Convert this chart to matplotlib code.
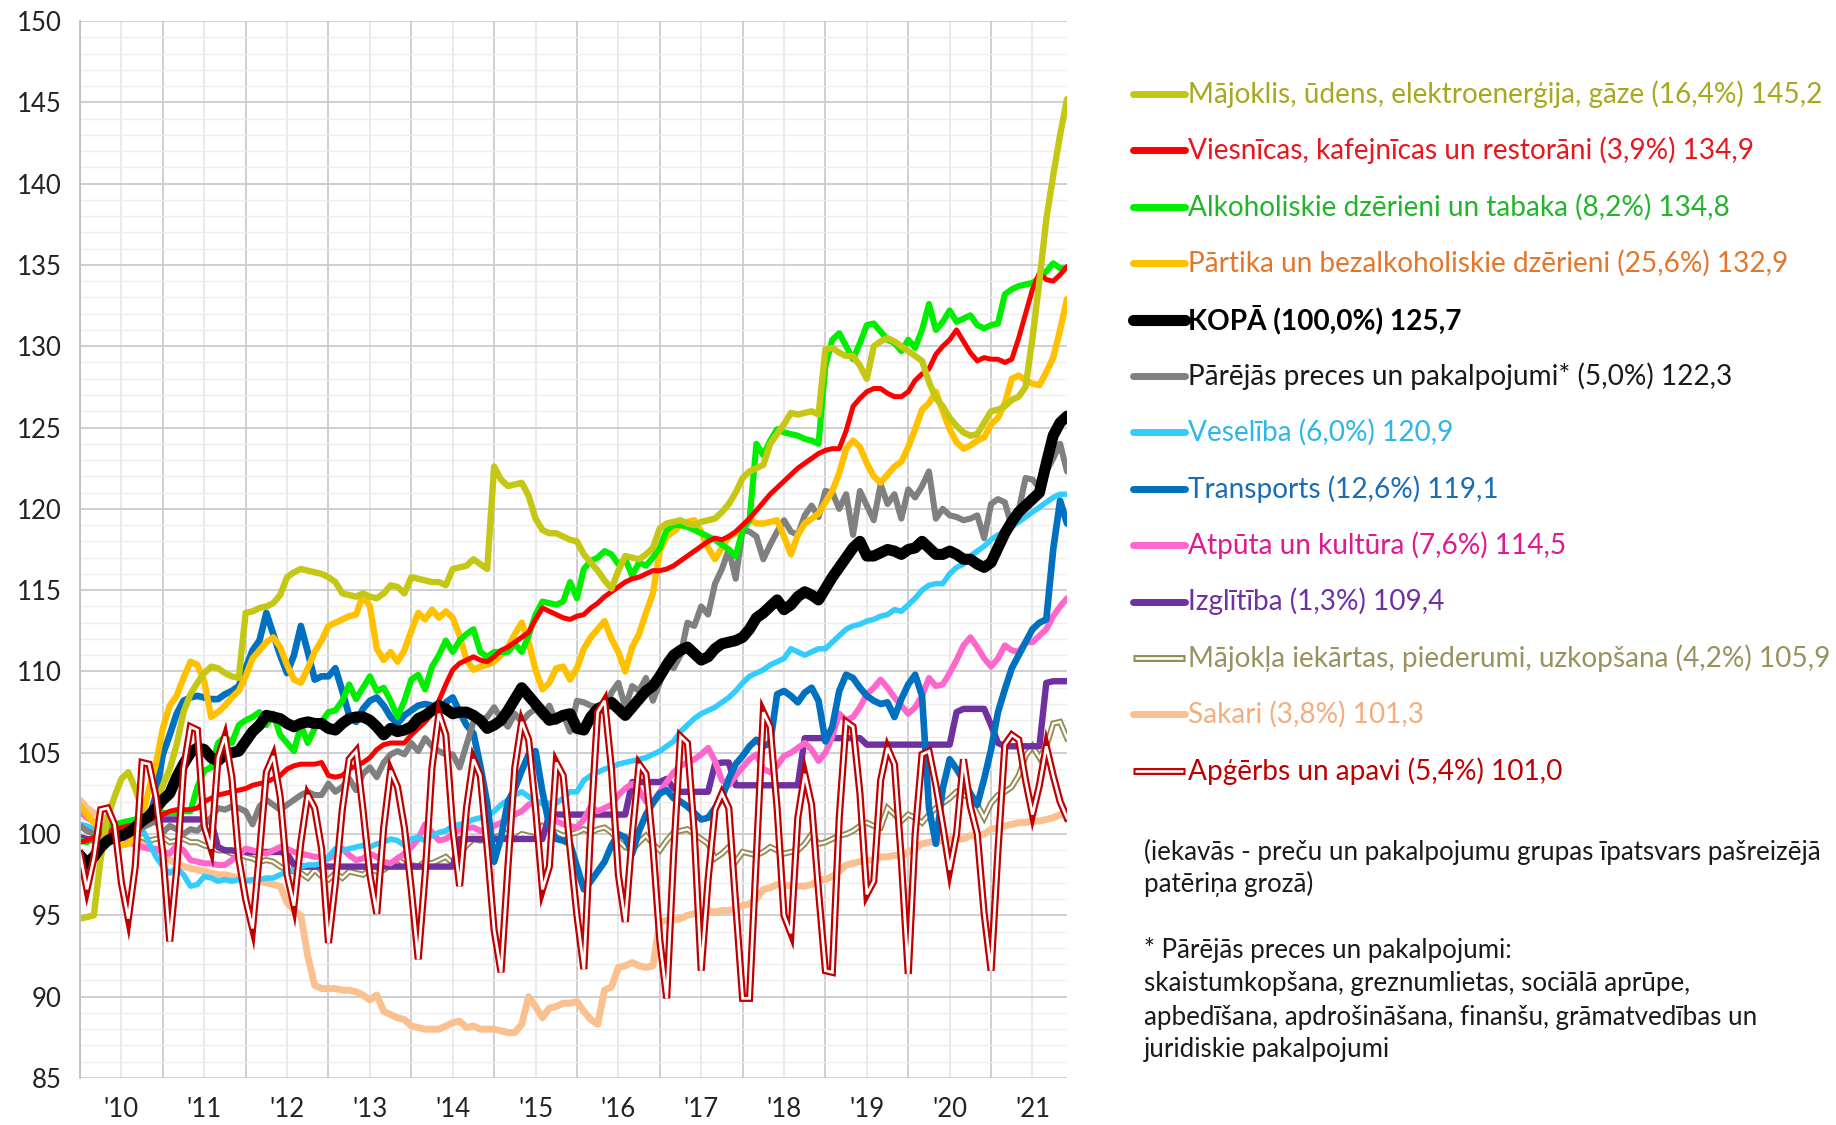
import matplotlib
matplotlib.use('Agg')
import matplotlib.pyplot as plt
import numpy as np

plt.rcParams['font.family'] = ['Lato', 'DejaVu Sans']

# monthly indices, Jan 2010 .. Dec 2021
year_labels = ["'10", "'11", "'12", "'13", "'14", "'15", "'16", "'17", "'18", "'19", "'20", "'21"]

majoklis = [
    94.8, 94.9, 95.0, 98.5, 101.0, 102.3, 103.4, 103.8, 102.8, 101.5, 101.0, 101.8,
    103.0, 104.0, 105.5, 107.5, 108.6, 109.3, 109.9, 110.3, 110.2, 109.9, 109.7, 109.6,
    113.6, 113.7, 113.9, 114.0, 114.2, 114.7, 115.8, 116.1, 116.3, 116.2, 116.1, 116.0,
    115.8, 115.5, 114.8, 114.7, 114.6, 114.8, 114.6, 114.5, 114.8, 115.3, 115.2, 114.8,
    115.8, 115.7, 115.6, 115.5, 115.5, 115.3, 116.3, 116.4, 116.5, 116.9, 116.6, 116.3,
    122.6, 121.8, 121.4, 121.5, 121.6, 120.8, 119.4, 118.7, 118.5, 118.5, 118.3, 118.1,
    118.0, 117.2, 116.7, 116.2, 115.6, 115.1, 116.2, 117.1, 117.0, 116.9, 117.2, 117.6,
    118.8, 119.1, 119.2, 119.3, 119.1, 119.0, 119.2, 119.3, 119.4, 119.8, 120.3, 121.0,
    121.9, 122.3, 122.5, 122.7, 124.0, 124.6, 125.2, 125.9, 125.8, 125.9, 126.0, 125.8,
    129.8, 129.9, 129.6, 129.4, 129.4, 128.8, 128.0, 130.0, 130.3, 130.5, 130.3, 130.0,
    129.7, 129.4, 129.1, 127.8, 126.8, 126.3, 125.6, 125.1, 124.7, 124.5, 124.6, 125.3,
    126.0, 126.1, 126.3, 126.7, 126.9, 127.5, 130.5, 134.0, 137.8, 140.5, 143.0, 145.2]

viesnicas = [
    99.5, 99.6, 99.8, 100.0, 100.1, 100.3, 100.4, 100.5, 100.6, 100.8, 100.9, 101.0,
    101.2, 101.4, 101.5, 101.5, 101.5, 101.6, 102.0, 102.2, 102.4, 102.5, 102.6, 102.7,
    102.8, 103.0, 103.1, 103.2, 103.4, 103.6, 104.0, 104.2, 104.3, 104.3, 104.3, 104.4,
    103.6, 103.5, 103.6, 104.0, 104.2, 104.4, 104.7, 105.2, 105.5, 105.6, 105.6, 105.6,
    106.1, 106.5, 106.9, 107.4, 108.2, 109.2, 110.1, 110.5, 110.7, 110.9, 110.7, 110.6,
    110.9, 111.3, 111.5, 111.8, 112.1, 112.4, 113.2, 113.9, 113.7, 113.5, 113.3, 113.2,
    113.4, 113.5, 113.9, 114.2, 114.6, 114.9, 115.2, 115.5, 115.7, 115.8, 116.0, 116.2,
    116.2, 116.3, 116.5, 116.8, 117.1, 117.4, 117.7, 118.0, 118.2, 118.1, 118.3, 118.6,
    119.0, 119.4, 119.9, 120.4, 120.9, 121.3, 121.7, 122.1, 122.5, 122.8, 123.1, 123.4,
    123.6, 123.7, 123.7, 124.8, 126.3, 126.8, 127.2, 127.4, 127.4, 127.1, 126.9, 126.9,
    127.2, 127.9, 128.3, 128.6, 129.5, 130.0, 130.4, 131.0, 130.3, 129.6, 129.1, 129.3,
    129.2, 129.2, 129.0, 129.2, 130.5, 132.0, 133.5, 134.5, 134.1, 134.0, 134.4, 134.9]

alkohols = [
    99.6, 99.5, 99.8, 100.2, 100.4, 100.6, 100.7, 100.8, 100.9, 101.0, 101.1, 101.2,
    101.3, 101.3, 101.3, 101.4, 101.4, 102.9, 103.9, 104.1, 105.6, 106.0, 105.6, 106.7,
    107.0, 107.2, 107.5, 106.7, 107.4, 106.1, 105.6, 105.1, 106.7, 105.6, 106.5, 106.9,
    107.5, 107.6, 108.2, 109.2, 108.3, 109.0, 109.7, 108.8, 109.0, 108.2, 107.2, 108.2,
    109.5, 109.8, 108.9, 110.3, 111.0, 111.9, 111.2, 111.9, 112.3, 112.6, 111.2, 110.9,
    111.2, 111.2, 111.2, 111.7, 111.2, 112.2, 113.5, 114.3, 114.2, 114.1, 114.3, 115.5,
    114.5, 116.3, 116.8, 117.0, 117.4, 117.2, 116.6, 116.9, 115.9, 116.7, 116.5, 117.0,
    117.6, 118.7, 119.0, 119.0, 118.9, 118.7, 118.5, 118.3, 118.1, 117.8, 117.5, 117.1,
    118.7, 119.3, 124.0, 123.3, 124.2, 124.9, 124.7, 124.6, 124.5, 124.3, 124.2, 124.0,
    128.8, 130.4, 130.8, 130.0, 129.2, 130.2, 131.3, 131.4, 130.9, 130.4, 130.2, 129.7,
    130.4, 129.9, 131.0, 132.6, 131.0, 131.5, 132.2, 131.5, 131.7, 131.9, 131.3, 131.1,
    131.3, 131.4, 133.2, 133.5, 133.7, 133.8, 133.9, 134.2, 134.6, 135.1, 134.8, 134.8]

partika = [
    101.8, 101.2, 100.7, 100.3, 100.0, 99.7, 99.3, 99.4, 100.0, 100.9, 102.8, 104.3,
    106.5, 107.9, 108.5, 109.6, 110.6, 110.4, 109.4, 107.2, 107.5, 107.9, 108.4, 108.8,
    109.7, 110.8, 111.3, 111.8, 112.1, 111.5, 110.4, 109.5, 109.3, 110.2, 111.2, 111.9,
    112.8, 113.0, 113.2, 113.4, 113.5, 114.7, 114.0, 111.4, 110.7, 111.2, 110.6, 111.3,
    112.5, 113.6, 113.2, 113.8, 113.3, 113.7, 113.3, 112.2, 110.7, 110.1, 110.3, 110.4,
    110.6, 111.0, 111.5, 112.3, 113.0, 111.8, 110.1, 108.9, 109.3, 110.2, 110.3, 109.5,
    110.2, 111.4, 112.1, 112.6, 113.1, 112.0, 111.2, 110.0, 111.5, 112.3, 113.6, 114.8,
    117.4, 118.3, 118.6, 119.0, 119.2, 119.3, 118.6, 117.6, 116.9, 117.6, 118.3, 118.5,
    118.9, 119.4, 119.1, 119.1, 119.2, 119.3, 118.3, 117.2, 118.4, 119.1, 119.4, 119.7,
    120.4, 121.1, 122.2, 123.7, 124.2, 123.8, 122.8, 122.0, 121.6, 122.1, 122.6, 122.9,
    123.8, 124.9, 126.1, 126.5, 127.2, 126.0, 124.9, 124.1, 123.7, 123.9, 124.2, 124.4,
    125.2, 125.6, 126.5, 128.0, 128.2, 127.9, 127.7, 127.6, 128.4, 129.3, 131.0, 132.9]

kopa = [
    98.7, 98.2, 98.6, 99.2, 99.6, 99.8, 99.9, 100.1, 100.4, 100.8, 101.1, 101.6,
    102.1, 102.5, 103.5, 104.3, 105.0, 105.3, 105.2, 104.7, 104.5, 104.9, 105.0, 105.1,
    105.7, 106.3, 106.7, 107.3, 107.2, 107.1, 106.8, 106.6, 106.8, 106.9, 106.8, 106.8,
    106.5, 106.4, 106.8, 107.1, 107.2, 107.2, 107.0, 106.6, 106.1, 106.5, 106.3, 106.4,
    106.6, 107.1, 107.3, 107.6, 107.9, 107.7, 107.4, 107.5, 107.5, 107.3, 107.0, 106.5,
    106.7, 107.0, 107.6, 108.3, 109.0, 108.5, 108.0, 107.5, 107.0, 107.1, 107.3, 107.4,
    106.5, 106.4, 107.2, 107.7, 107.9, 108.1, 107.7, 107.3, 107.8, 108.3, 108.8, 109.1,
    109.7, 110.4, 111.0, 111.3, 111.5, 111.1, 110.7, 110.9, 111.4, 111.7, 111.8, 111.9,
    112.1, 112.6, 113.3, 113.6, 114.0, 114.4, 113.8, 114.1, 114.6, 114.9, 114.7, 114.4,
    115.1, 115.8, 116.4, 117.0, 117.6, 118.0, 117.1, 117.1, 117.3, 117.5, 117.4, 117.2,
    117.5, 117.6, 118.0, 117.6, 117.2, 117.2, 117.4, 117.2, 116.9, 116.9, 116.6, 116.4,
    116.7, 117.6, 118.5, 119.2, 119.8, 120.2, 120.6, 121.0, 122.8, 124.5, 125.3, 125.7]

parejas = [
    100.5, 100.2, 100.0, 99.8, 99.9, 100.0, 100.3, 100.2, 100.0, 100.4, 100.6, 100.8,
    100.1, 100.5, 100.3, 100.0, 100.3, 100.2, 100.6, 101.0, 101.6, 101.5, 101.7, 101.6,
    101.4, 100.6, 101.7, 102.1, 101.8, 101.5, 101.8, 102.1, 102.4, 102.6, 102.4, 102.4,
    103.1, 102.6, 102.9, 103.4, 102.7, 103.7, 104.1, 103.5, 104.4, 104.9, 105.1, 104.9,
    105.6, 105.1, 105.9, 105.4, 105.1, 104.9, 104.9, 104.1, 105.5, 106.9, 107.0, 107.2,
    107.8, 107.1, 106.6, 107.4, 106.9, 107.4, 107.7, 107.2, 107.9, 106.9, 107.4, 106.3,
    108.2, 108.1, 107.9, 107.8, 107.5, 108.7, 109.3, 107.8, 109.1, 108.8, 109.6, 108.2,
    109.3, 110.7, 110.2, 111.0, 113.0, 112.8, 114.0, 113.5, 115.4, 116.3, 117.5, 115.7,
    118.7, 118.6, 118.3, 116.9, 117.8, 118.6, 119.3, 118.6, 118.4, 119.6, 120.2, 119.5,
    121.1, 121.0, 120.0, 120.9, 118.4, 121.1, 120.2, 119.3, 121.5, 120.3, 120.9, 119.4,
    121.2, 120.7, 121.4, 122.3, 119.4, 120.0, 119.6, 119.5, 119.3, 119.4, 119.6, 118.2,
    120.3, 120.6, 120.4, 118.9, 119.9, 121.9, 121.8, 121.3, 122.3, 123.1, 124.0, 122.3]

veseliba = [
    100.6, 100.5, 100.3, 100.2, 100.3, 100.2, 100.4, 100.3, 100.4, 100.3, 99.5, 98.6,
    98.0, 97.6, 97.9, 97.5, 96.8, 96.9, 97.4, 97.3, 97.1, 97.2, 97.1, 97.2,
    97.1, 97.2, 97.2, 97.3, 97.3, 97.5, 97.7, 97.8, 98.0, 98.1, 98.1, 98.2,
    98.6, 99.1, 99.0, 99.1, 99.2, 99.3, 99.2, 99.4, 99.5, 99.7, 99.6, 99.3,
    99.7, 99.8, 99.6, 99.9, 100.1, 100.2, 100.5, 100.6, 100.7, 100.9, 101.0, 101.1,
    101.4, 101.8, 102.1, 102.4, 102.6, 102.3, 102.0, 101.9, 101.9, 101.9, 102.2, 102.6,
    102.6, 103.3, 103.6, 103.8, 104.0, 104.1, 104.3, 104.4, 104.5, 104.6, 104.7, 104.9,
    105.1, 105.4, 105.7, 106.3, 106.7, 107.1, 107.4, 107.6, 107.8, 108.1, 108.4, 108.8,
    109.3, 109.7, 109.9, 110.1, 110.4, 110.6, 110.8, 111.4, 111.2, 111.0, 111.2, 111.4,
    111.4, 111.8, 112.2, 112.6, 112.8, 112.9, 113.1, 113.2, 113.4, 113.5, 113.8, 113.7,
    114.1, 114.5, 115.0, 115.3, 115.4, 115.4, 116.0, 116.4, 116.6, 117.1, 117.4, 117.7,
    118.1, 118.4, 118.5, 118.9, 119.2, 119.5, 119.8, 120.1, 120.4, 120.7, 120.9, 120.9]

transports = [
    98.2, 97.6, 98.6, 99.6, 100.3, 100.6, 100.5, 100.4, 100.6, 100.8, 101.0, 102.4,
    104.9, 106.1, 107.4, 108.2, 108.4, 108.5, 108.4, 108.3, 108.3, 108.6, 108.8, 109.1,
    110.2, 111.3, 111.9, 113.6, 112.3, 111.0, 109.9, 111.0, 112.8, 111.2, 109.5, 109.7,
    109.7, 110.2, 108.8, 107.3, 106.9, 107.7, 108.2, 108.4, 107.9, 107.2, 106.8, 107.3,
    107.6, 107.9, 108.0, 107.9, 107.7, 108.1, 108.4, 107.5, 106.7, 106.2, 104.2, 101.9,
    98.3, 99.8, 102.0, 102.8, 103.9, 104.9, 105.1, 102.6, 100.5, 99.7, 99.6, 99.4,
    98.0, 96.6, 97.1, 97.7, 98.3, 99.3, 100.0, 99.8, 98.8, 100.2, 101.2, 101.9,
    102.5, 102.7, 102.2, 102.0, 101.7, 101.3, 100.9, 101.0, 101.6, 102.2, 103.4, 104.3,
    104.8, 105.4, 105.8, 105.4, 105.6, 108.6, 108.8, 108.5, 108.1, 108.7, 109.0, 108.2,
    105.7, 106.6, 108.8, 109.8, 109.6, 109.0, 108.5, 108.2, 108.0, 108.1, 107.2, 108.3,
    109.2, 109.8, 108.5, 101.6, 99.4, 102.8, 104.6, 104.0, 103.3, 102.5, 101.8, 103.4,
    105.2, 107.5, 108.9, 110.2, 111.0, 111.8, 112.6, 113.0, 113.2, 117.5, 120.5, 119.1]

atputa = [
    101.4, 101.0, 100.8, 100.6, 100.3, 100.1, 99.8, 99.6, 99.3, 99.2, 99.1, 99.1,
    98.9, 98.8, 99.3, 99.0, 98.4, 98.3, 98.2, 98.2, 98.1, 98.1, 98.4, 98.7,
    99.1, 99.0, 98.9, 98.8, 99.0, 99.2, 99.1, 98.9, 98.8, 98.7, 98.6, 98.6,
    98.5, 98.7, 99.1, 98.7, 98.4, 98.5, 98.8, 98.6, 98.3, 98.2, 98.5, 98.8,
    99.2, 99.7, 100.6, 100.1, 99.6, 99.7, 100.0, 100.3, 100.4, 100.4, 100.2, 100.3,
    100.5, 100.7, 100.9, 101.2, 101.4, 101.8, 102.0, 101.9, 101.4, 100.8, 100.6, 100.5,
    100.4, 100.9, 101.7, 101.4, 101.6, 101.8, 102.4, 102.8, 103.1, 102.7, 102.0, 102.0,
    102.6, 103.2, 103.8, 104.2, 104.4, 104.6, 104.9, 105.3, 104.5, 103.3, 103.0, 103.6,
    104.1, 104.6, 104.9, 104.0, 103.8, 104.2, 104.8, 105.0, 105.3, 105.6, 105.2, 104.5,
    105.0, 106.0, 107.4, 107.0, 107.2, 107.8, 108.6, 109.0, 109.5, 109.0, 108.4, 107.9,
    107.4, 107.8, 108.5, 109.6, 109.1, 109.2, 109.9, 110.7, 111.6, 112.1, 111.5, 110.8,
    110.3, 110.8, 111.6, 111.3, 111.2, 111.8, 111.8, 112.2, 112.6, 113.4, 114.0, 114.5]

izglitiba = [
    99.8, 99.7, 99.6, 99.5, 99.9, 100.2, 100.4, 100.5, 100.6, 100.7, 100.8, 100.9,
    100.9, 100.9, 100.9, 100.9, 100.9, 100.9, 100.9, 100.8, 99.2, 99.0, 99.0, 98.9,
    98.9, 98.9, 98.9, 98.9, 98.9, 98.9, 98.8, 98.1, 98.0, 98.0, 98.0, 98.0,
    98.0, 98.0, 98.0, 98.0, 98.0, 98.0, 98.0, 98.0, 98.0, 98.0, 98.0, 98.0,
    98.0, 98.0, 98.0, 98.0, 98.0, 98.0, 98.0, 99.7, 99.7, 99.7, 99.7, 99.7,
    99.7, 99.7, 99.7, 99.7, 99.7, 99.7, 99.7, 99.7, 101.2, 101.2, 101.2, 101.2,
    101.2, 101.2, 101.2, 101.2, 101.2, 101.2, 101.2, 101.2, 103.2, 103.2, 103.2, 103.2,
    103.2, 103.4, 102.8, 102.6, 102.6, 102.6, 102.6, 102.6, 104.3, 104.4, 104.4, 103.0,
    103.0, 103.0, 103.0, 103.0, 103.0, 103.0, 103.0, 103.0, 103.0, 105.9, 105.9, 105.9,
    105.9, 105.9, 105.9, 105.9, 105.9, 105.9, 105.5, 105.5, 105.5, 105.5, 105.5, 105.5,
    105.5, 105.5, 105.5, 105.5, 105.5, 105.5, 105.5, 107.5, 107.7, 107.7, 107.7, 107.7,
    106.7, 105.6, 105.4, 105.4, 105.4, 105.4, 105.4, 105.4, 109.3, 109.4, 109.4, 109.4]

iekartas = [
    100.5, 100.3, 100.1, 100.0, 100.2, 100.0, 99.8, 99.9, 99.7, 99.8, 99.6, 99.7,
    99.8, 99.5, 99.6, 99.7, 99.5, 99.5, 99.3, 99.2, 99.0, 99.0, 98.8, 98.8,
    98.6, 98.5, 98.3, 98.4, 98.3, 98.0, 97.8, 97.7, 97.6, 97.3, 97.8, 97.4,
    97.2, 97.6, 97.3, 97.7, 97.6, 97.5, 97.8, 97.7, 97.8, 98.1, 98.5, 98.1,
    98.1, 98.0, 98.3, 98.2, 98.4, 98.6, 98.2, 98.8, 99.3, 99.7, 99.6, 99.7,
    99.8, 99.9, 100.1, 99.7, 100.0, 99.9, 99.8, 100.5, 100.3, 100.1, 99.9, 100.0,
    100.1, 100.3, 100.1, 100.3, 100.4, 100.1, 99.6, 99.2, 99.0, 99.5, 99.9, 99.4,
    99.0, 99.6, 100.1, 100.2, 100.3, 100.0, 99.7, 99.4, 98.5, 98.8, 99.2, 98.3,
    98.9, 98.8, 98.7, 98.9, 99.2, 99.0, 98.8, 98.9, 99.0, 99.4, 100.0, 99.4,
    99.5, 99.7, 99.9, 100.0, 100.2, 100.5, 100.7, 100.5, 100.4, 101.6, 101.2, 100.8,
    101.2, 101.0, 100.7, 101.2, 101.6, 101.9, 102.2, 102.6, 102.4, 102.2, 101.8, 101.0,
    101.9, 102.4, 102.6, 102.9, 103.6, 104.8, 105.4, 104.7, 105.4, 106.8, 106.9, 105.9]

sakari = [
    102.1, 101.6, 101.3, 101.1, 100.9, 100.6, 100.3, 100.0, 99.8, 99.5, 99.2, 98.9,
    98.6, 98.4, 98.2, 98.0, 97.9, 97.8, 97.7, 97.6, 97.5, 97.5, 97.4, 97.3,
    97.2, 97.1, 97.1, 97.0, 96.9, 96.8, 95.8, 95.3, 95.0, 92.5, 90.7, 90.5,
    90.5, 90.5, 90.4, 90.4, 90.3, 90.1, 89.8, 90.1, 89.1, 88.9, 88.7, 88.6,
    88.2, 88.1, 88.0, 88.0, 88.0, 88.2, 88.4, 88.5, 88.1, 88.2, 88.0, 88.0,
    88.0, 87.9, 87.8, 87.8, 88.3, 90.0, 89.4, 88.7, 89.3, 89.4, 89.6, 89.6,
    89.7, 89.1, 88.6, 88.3, 90.4, 90.6, 91.8, 91.9, 92.1, 91.9, 91.8, 91.9,
    94.6, 94.7, 94.7, 94.8, 95.0, 95.1, 95.3, 95.3, 95.2, 95.3, 95.3, 95.4,
    95.6, 95.7, 96.0, 96.6, 96.7, 96.9, 96.9, 96.8, 96.8, 96.8, 96.9, 97.2,
    97.2, 97.4, 97.7, 98.1, 98.2, 98.3, 98.4, 98.4, 98.6, 98.6, 98.7, 98.6,
    98.9, 99.1, 99.4, 99.5, 99.5, 99.6, 99.7, 99.7, 99.7, 99.9, 99.9, 100.0,
    100.3, 100.4, 100.5, 100.6, 100.7, 100.7, 100.8, 100.8, 100.9, 101.0, 101.2, 101.3]

apgerbs = [
    98.8, 96.6, 98.5, 101.5, 101.6, 100.6, 97.0, 94.8, 98.0, 104.4, 104.3, 102.3,
    98.8, 93.4, 97.8, 104.0, 106.6, 106.4, 100.5, 99.1, 104.7, 106.0, 103.5, 98.5,
    96.0, 94.2, 98.8, 103.8, 104.8, 102.3, 97.5, 95.6, 99.5, 102.4, 101.6, 99.1,
    93.3, 97.0, 101.5, 104.6, 105.1, 101.5, 97.5, 95.1, 100.4, 103.9, 102.9, 100.4,
    96.6, 92.3, 97.5, 104.1, 107.4, 106.1, 100.4, 96.8, 101.6, 104.6, 103.6, 99.1,
    94.1, 91.5, 98.0, 104.1, 106.9, 105.8, 101.6, 96.6, 98.0, 104.4, 103.6, 99.1,
    95.0, 91.7, 100.5, 107.5, 108.2, 104.0, 97.5, 94.6, 99.9, 104.3, 103.7, 99.3,
    93.5, 89.9, 98.7, 106.0, 105.6, 100.1, 91.6, 97.2, 101.5, 102.5, 101.6, 95.7,
    89.9, 89.9, 98.7, 107.5, 106.6, 101.6, 95.0, 93.9, 101.0, 103.7, 101.8, 96.5,
    91.6, 91.5, 101.0, 106.9, 106.6, 102.5, 96.3, 97.1, 103.3, 105.3, 104.3, 98.4,
    91.4, 100.0, 104.9, 105.1, 103.0, 100.5, 97.8, 100.0, 104.6, 101.7, 100.0, 95.1,
    91.6, 99.0, 105.5, 106.1, 105.8, 103.3, 101.2, 103.0, 105.4, 103.6, 102.0, 101.0]

legend_texts = [
    'Mājoklis, ūdens, elektroenerģija, gāze (16,4%) 145,2',
    'Viesnīcas, kafejnīcas un restorāni (3,9%) 134,9',
    'Alkoholiskie dzērieni un tabaka (8,2%) 134,8',
    'Pārtika un bezalkoholiskie dzērieni (25,6%) 132,9',
    'KOPĀ (100,0%) 125,7',
    'Pārējās preces un pakalpojumi* (5,0%) 122,3',
    'Veselība (6,0%) 120,9',
    'Transports (12,6%) 119,1',
    'Atpūta un kultūra (7,6%) 114,5',
    'Izglītība (1,3%) 109,4',
    'Mājokļa iekārtas, piederumi, uzkopšana (4,2%) 105,9',
    'Sakari (3,8%) 101,3',
    'Apģērbs un apavi (5,4%) 101,0',
]
line_colors = ['#C4C814', '#FF0000', '#00EE00', '#FFC000', '#000000', '#808080',
               '#33CCFF', '#0070C0', '#FF66CC', '#7030A0', '#948A54', '#FAC090', '#C00000']
text_colors = ['#A8A820', '#E8161E', '#22B42A', '#E2762B', '#000000', '#1A1A1A',
               '#2DB6E8', '#1A6DB5', '#E0198F', '#7030A0', '#9A9160', '#F2AE7E', '#C00000']

note_lines = [
    '(iekavās - preču un pakalpojumu grupas īpatsvars pašreizējā',
    'patēriņa grozā)',
    '* Pārējās preces un pakalpojumi:',
    'skaistumkopšana, greznumlietas, sociālā aprūpe,',
    'apbedīšana, apdrošināšana, finanšu, grāmatvedības un',
    'juridiskie pakalpojumi',
]

series = [majoklis, viesnicas, alkohols, partika, kopa, parejas, veseliba,
          transports, atputa, izglitiba, iekartas, sakari, apgerbs]
for s in series:
    assert len(s) == 144, len(s)

months = np.arange(144)

fig = plt.figure(figsize=(18.36, 11.25), dpi=100)
ax = fig.add_axes([80 / 1836, 47 / 1125, 987 / 1836, 1057 / 1125])

widths = [4.6, 3.6, 4.4, 4.6, 8.0, 4.4, 4.0, 4.8, 4.4, 4.6, None, 5.0, None]
draw_order = [11, 10, 9, 8, 6, 7, 5, 3, 2, 1, 0, 4, 12]
for i in draw_order:
    if i in (10, 12):
        outer = 4.4 if i == 10 else 5.2
        ax.plot(months, series[i], color=line_colors[i], lw=outer, solid_joinstyle='miter')
        ax.plot(months, series[i], color='white', lw=outer * 0.38, solid_joinstyle='miter')
    else:
        ax.plot(months, series[i], color=line_colors[i], lw=widths[i],
                solid_joinstyle='round', solid_capstyle='round')

ax.set_xlim(0, 143)
ax.set_ylim(85, 150)
ax.set_yticks(np.arange(85, 151, 5))
ax.set_yticks(np.arange(85, 151, 1), minor=True)
ax.set_xticks(np.arange(6, 144, 12), year_labels)
ax.set_xticks(np.arange(0, 144, 12), minor=True)
ax.tick_params(which='both', length=0)
ax.tick_params(axis='y', labelsize=18.5, pad=13, labelcolor='#222222')
ax.tick_params(axis='x', labelsize=18.5, pad=14, labelcolor='#222222')
ax.grid(axis='y', which='major', color='#CBCBCB', lw=1.3)
ax.grid(axis='y', which='minor', color='#EDEDED', lw=1.0)
ax.grid(axis='x', which='major', color='#E4E4E4', lw=1.1)
ax.grid(axis='x', which='minor', color='#CBCBCB', lw=1.3)
ax.set_axisbelow(True)
for sp in ['top', 'right', 'bottom']:
    ax.spines[sp].set_visible(False)
ax.spines['left'].set_color('#BFBFBF')
ax.spines['left'].set_linewidth(1.3)

# legend area drawn in pixel coordinates
lax = fig.add_axes([0, 0, 1, 1])
lax.set_xlim(0, 1836)
lax.set_ylim(1125, 0)
lax.axis('off')
lax.patch.set_alpha(0)

y0, dy = 94, 56.4
for k, txt in enumerate(legend_texts):
    y = y0 + k * dy
    if k in (10, 12):
        lax.plot([1133, 1185], [y, y], color=line_colors[k], lw=5.0, solid_capstyle='butt')
        lax.plot([1135, 1183], [y, y], color='white', lw=1.9, solid_capstyle='butt')
    else:
        lax.plot([1133, 1185], [y, y], color=line_colors[k],
                 lw=8 if k == 4 else 5.0, solid_capstyle='round')
    lax.text(1188, y, txt, color=text_colors[k], fontsize=20.2,
             fontweight='bold' if k == 4 else 'normal', va='center', ha='left')

note_y = [852, 884, 950, 983, 1017, 1050]
for txt, y in zip(note_lines, note_y):
    lax.text(1144, y, txt, color='#1A1A1A', fontsize=18.6, va='center', ha='left')

fig.savefig('out.png', dpi=100, facecolor='white')
